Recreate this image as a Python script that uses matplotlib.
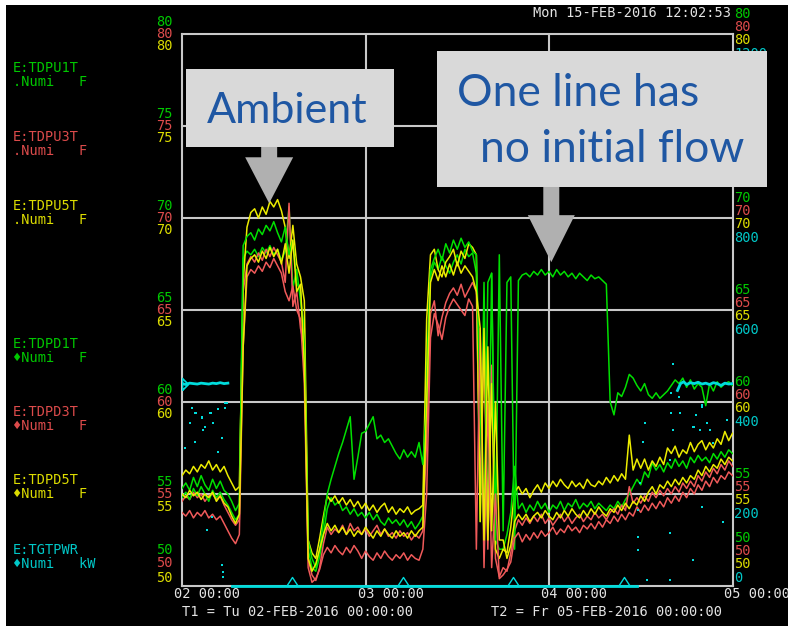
import numpy as np
import matplotlib
matplotlib.use("Agg")
import matplotlib.pyplot as plt
from matplotlib.patches import Rectangle, Polygon

# ---- data ----
# time axis: hours after Tu 02-FEB-2016 00:00, one sample every half hour
hours = np.arange(0, 72.01, 0.5)
day_labels = ["02 00:00", "03 00:00", "04 00:00", "05 00:00"]
day_hours = [0, 24, 48, 72]
temp_levels = [50, 55, 60, 65, 70, 75, 80]
power_levels = [0, 200, 400, 600, 800, 1000, 1200]

# temperatures in F
green_a = [55.3, 55.6, 55.2, 55.9, 55.4, 56.0, 55.5, 55.2, 55.8, 55.3, 55.7, 55.2, 55.0, 54.6, 54.1, 54.5,
           67.8, 68.2, 68.0, 68.3, 67.9, 68.4, 68.1, 68.5, 68.0, 68.3, 67.7, 68.2, 70.6, 66.2, 67.2, 65.5, 64.0,
           52.0, 51.0, 50.8, 51.6, 52.8, 54.2, 54.8, 54.4, 54.6, 54.1, 54.3, 53.9, 54.2, 53.8, 54.0, 53.7,
           54.0, 53.6, 53.9, 53.5, 53.3, 53.7, 53.4, 53.6, 53.3, 53.6, 53.2, 53.5, 53.1, 53.4, 53.8,
           62.0, 66.8, 67.6, 67.2, 67.9, 67.4, 67.0, 67.6, 68.0, 67.5, 68.3, 67.9, 68.1,
           67.0, 53.5, 66.5, 52.5, 67.0, 52.5, 52.0,
           52.0, 52.8, 54.0, 56.5, 54.2, 54.5, 54.0, 54.4, 54.1, 54.6, 54.2, 54.5, 54.0, 54.4, 54.2, 54.6,
           54.1, 54.5, 54.3, 54.7, 54.2, 54.5, 54.3, 54.6, 54.2, 54.5, 54.3, 54.1, 54.4, 54.2, 54.6, 54.3,
           54.7, 55.0, 55.4, 55.8, 55.5, 56.2, 55.9, 56.7, 56.3, 56.6, 56.2, 56.7, 56.4, 56.9, 56.5, 56.8,
           56.4, 57.0, 56.7, 57.1, 56.8, 57.0, 56.7, 57.2, 56.9, 57.3, 57.0, 57.4, 57.2]
red_a = [54.6, 54.9, 54.7, 55.1, 54.8, 55.0, 54.6, 54.9, 55.0, 54.7, 54.9, 54.4, 54.0, 53.6, 53.3, 53.6,
         66.0, 67.5, 67.9, 67.6, 68.1, 67.7, 68.3, 67.9, 68.4, 68.0, 67.6, 66.5, 70.8, 65.2, 66.0, 64.0, 63.0,
         51.5, 50.6, 50.3, 51.0, 52.3, 53.2, 52.8, 53.1, 52.9, 53.3, 52.8, 53.4, 53.0, 53.2, 52.8, 53.1,
         52.7, 53.0, 53.3, 52.8, 53.1, 52.7, 52.9, 52.6, 53.0, 52.7, 52.9, 52.5, 52.8, 52.6, 53.0,
         58.0, 64.8, 65.5, 63.6, 64.6, 65.4, 65.9, 66.2, 65.8, 66.4, 65.7, 66.1, 66.5,
         66.0, 55.0, 63.5, 52.0, 62.0, 51.5, 50.5,
         51.0, 50.8, 51.8, 53.0, 53.6, 53.3, 53.7, 53.4, 53.8, 53.5, 53.9, 53.4, 53.7, 53.3, 53.6, 53.9,
         53.5, 53.8, 53.4, 53.7, 53.9, 53.5, 53.8, 53.6, 54.0, 53.7, 53.9, 53.6, 54.0, 54.2, 53.9, 54.4,
         54.1, 55.4, 54.5, 54.8, 54.5, 54.9, 54.6, 55.1, 54.8, 55.2, 54.9, 55.3, 55.0, 55.4, 55.1, 55.6,
         55.3, 55.7, 55.4, 56.0, 55.7, 56.2, 55.9, 56.4, 56.1, 56.6, 56.3, 56.8, 56.5]
yellow_a = [56.0, 56.3, 56.1, 56.5, 56.2, 56.6, 56.4, 56.8, 56.3, 56.6, 56.2, 56.5, 56.0, 55.6, 55.2, 55.4,
            66.5, 69.5, 70.3, 70.5, 70.0, 70.6, 70.2, 70.9, 70.6, 71.0, 70.4, 69.5, 67.8, 69.6, 67.5, 66.8, 65.5,
            52.5, 51.8, 51.5, 52.6, 53.8, 54.9, 54.6, 54.9, 54.5, 54.8, 54.4, 54.7, 54.3, 54.6, 54.2, 54.5,
            54.1, 54.4, 54.0, 54.3, 54.5, 54.0, 54.3, 53.9, 54.2, 54.0, 54.3, 53.9, 54.1, 54.2, 54.4,
            64.5, 68.0, 68.3, 67.2, 66.8, 67.6, 67.9, 68.3, 67.4, 68.2, 67.8, 68.6, 68.4,
            68.0, 53.5, 64.0, 52.5, 61.0, 52.0, 51.5,
            52.0, 51.8, 53.2, 55.1, 55.4, 55.0, 55.3, 54.8, 55.2, 55.5, 55.1, 55.6, 55.3, 55.7, 55.4, 55.8,
            55.5, 55.3, 55.7, 55.4, 55.6, 55.3, 55.8, 55.5, 55.4, 55.7, 55.5, 55.9, 55.6, 56.0, 55.7, 56.1,
            55.8, 58.2, 56.3, 56.9, 56.4, 56.9, 56.3, 56.8, 56.5, 57.0, 56.6, 57.5, 57.2, 57.6, 57.0, 57.4,
            57.2, 57.8, 57.3, 57.7, 57.9, 57.4, 57.8, 57.5, 58.0, 57.7, 58.4, 57.9, 58.3]
green_b = [54.8, 55.1, 54.7, 55.3, 54.9, 55.4, 55.0, 54.6, 55.2, 54.8, 55.1, 54.7, 54.4, 54.0, 53.6, 53.9,
           68.5, 69.0, 69.2, 68.8, 69.4, 69.1, 69.6, 69.3, 69.8, 69.2, 68.7, 69.5, 68.0, 68.8, 66.5, 66.0, 63.0,
           52.5, 51.5, 51.0, 52.0, 53.5, 55.0, 55.8, 56.5, 57.2, 57.8, 58.5, 59.2, 55.8, 57.0, 58.3, 58.4,
           58.8, 59.2, 58.0, 58.2, 57.8, 58.0, 57.6, 57.2, 56.9, 57.4, 57.0, 57.3, 57.0, 57.8, 56.6,
           60.0, 67.2, 67.8, 68.3, 67.7, 68.6, 68.1, 68.8, 68.3, 68.9, 68.4, 68.7, 68.2,
           68.0, 60.0, 52.5, 66.5, 67.0, 52.5, 68.0,
           53.0, 66.5, 66.8, 52.0, 66.6, 66.9, 67.0, 66.8, 67.1, 66.9, 67.2, 66.9, 67.1, 66.8, 67.2, 66.9,
           67.1, 66.8, 67.0, 66.7, 67.0, 66.8, 66.6, 66.9, 66.7, 66.8, 66.6, 66.4, 60.0, 59.3, 60.5, 60.3,
           60.8, 61.5, 61.3, 60.9, 60.6, 61.0, 60.4, 60.2, 60.5, 60.2, 60.4, 60.6, 60.9, 61.2, 61.0, 61.3,
           60.8, 61.2, 60.7, 61.0, 60.8, 59.8, 61.0, 60.6, 61.1, 60.8, 61.0, 61.1, 60.9]
red_b = [54.0, 53.8, 54.1, 53.7, 54.0, 53.8, 54.1, 53.7, 53.9, 53.6, 53.8, 53.4, 53.0, 52.6, 52.3, 52.8,
         63.0, 66.8, 67.2, 67.0, 67.4, 67.1, 67.6, 67.3, 67.8, 67.4, 67.0, 66.0, 65.5, 66.3, 65.0, 64.5, 61.0,
         51.0, 50.2, 50.4, 50.9, 51.7, 52.1, 51.8, 52.2, 51.9, 51.7, 52.1, 51.8, 52.2, 51.9, 51.5, 51.9,
         51.6, 51.4, 51.8, 51.5, 51.9, 51.6, 51.4, 51.7, 51.5, 51.8, 51.4, 51.7, 51.5, 51.4, 52.0,
         55.0, 63.5, 64.8, 64.2, 63.4, 64.6, 65.2, 65.6, 65.3, 65.0, 64.7, 65.6, 65.2,
         52.0, 64.0, 51.0, 60.0, 51.0, 55.0, 50.4,
         50.6, 50.9, 51.3, 52.6, 52.9, 52.4, 52.8, 52.5, 52.9, 52.6, 53.0, 52.7, 52.9, 53.2, 52.8, 53.1,
         52.9, 53.3, 53.0, 53.2, 52.9, 53.3, 53.1, 53.4, 53.1, 53.5, 53.2, 53.6, 53.4, 53.8, 53.5, 53.9,
         53.6, 54.0, 53.8, 54.3, 54.0, 54.4, 54.1, 54.5, 54.2, 54.6, 54.3, 54.8, 54.5, 54.9, 54.6, 55.1,
         54.8, 55.3, 55.0, 55.5, 55.2, 55.7, 55.4, 55.9, 55.6, 56.0, 55.8, 56.2, 56.0]
yellow_b = [55.0, 54.8, 55.2, 54.9, 55.1, 54.7, 55.0, 54.8, 55.1, 54.6, 54.9, 54.5, 54.3, 53.8, 53.4, 53.9,
            63.0, 67.4, 67.8, 68.0, 67.6, 68.2, 67.8, 68.4, 67.9, 68.3, 67.5, 68.6, 67.0, 68.8, 66.0, 66.4, 62.0,
            51.5, 50.8, 51.2, 52.0, 52.8, 53.4, 53.0, 53.3, 52.9, 53.2, 52.8, 53.1, 52.7, 53.0, 52.8, 53.2,
            52.9, 52.6, 53.0, 52.7, 53.1, 52.8, 52.6, 53.0, 52.7, 52.9, 52.6, 53.0, 52.7, 53.0, 53.2,
            60.0, 66.5, 67.2, 66.6, 67.4, 66.8, 67.5, 66.9, 67.6, 67.0, 67.4, 67.1, 66.8,
            66.0, 64.0, 52.5, 63.0, 53.0, 60.0, 52.5,
            52.5, 51.5, 52.2, 53.5, 53.9, 53.6, 53.9, 53.5, 53.8, 54.0, 53.7, 54.1, 53.8, 53.6, 54.0, 53.7,
            54.1, 53.8, 54.2, 53.9, 53.7, 54.1, 53.8, 54.2, 53.9, 54.3, 54.0, 53.8, 54.2, 54.0, 54.4, 54.1,
            54.5, 54.2, 54.6, 54.4, 54.9, 54.6, 55.1, 55.4, 55.0, 55.5, 55.3, 55.7, 55.4, 55.8, 55.5, 55.9,
            55.6, 56.0, 55.8, 56.3, 56.0, 56.5, 56.2, 56.6, 56.4, 56.9, 56.6, 57.0, 56.8]

# target power in kW
power_on1_hours = [0, 0.5, 1, 1.5, 2, 2.5, 3, 3.5, 4, 4.5, 5, 5.5, 6]
power_on1_kw = [440, 438, 441, 440, 439, 441, 440, 439, 441, 440, 442, 440, 441]
power_off_hours = [6.5, 59.5]
power_off_kw = [0, 0]
power_on2_hours = [64.8, 65.2, 65.6, 66, 66.5, 67, 67.5, 68, 68.5, 69, 69.5, 70, 70.5, 71, 71.5, 72]
power_on2_kw = [425, 440, 444, 438, 442, 440, 443, 439, 441, 438, 442, 440, 436, 441, 439, 440]
power_dot_hours = [0.4, 1.05, 1.3, 1.7, 1.7, 1.8, 2.6, 2.6, 2.75, 3.0, 3.3, 3.7, 3.8, 3.9, 4.05, 4.7,
                   4.7, 5.2, 5.2, 5.3, 5.4, 5.6, 5.6, 5.9,
                   59.6, 59.6, 59.6, 59.9, 60.3, 60.55, 60.8, 63.8, 63.8, 63.8, 64.0, 64.0, 64.2, 64.2,
                   65.0, 65.1, 66.8, 66.8, 67.0, 67.2, 67.7, 68.0, 68.0, 68.0, 68.7, 69.1, 69.4, 70.8, 71.3]
power_dot_kw = [300, 354, 387, 376, 313, 376, 365, 367, 339, 346, 122, 376, 376, 150, 354, 291,
                385, 322, 46, 30, 20, 387, 398, 398,
                165, 107, 78, 224, 313, 354, 13, 274, 115, 13, 420, 376, 483, 339,
                411, 376, 346, 57, 346, 372, 339, 394, 389, 171, 354, 339, 311, 139, 361]
power_marker_hours = [14.45, 28.9, 43.35, 57.8]

ambient_tip = (11.4, 70.8)
noflow_tip = (48.3, 67.6)

# ---- style ----
W, H = 788, 626
GREEN, RED, YELLOW, CYAN = "#00e000", "#f05a5a", "#ecec00", "#00dcdc"
LGREEN, LRED, LYELLOW, LCYAN = "#00c800", "#dc4b4b", "#dcdc00", "#00c8c8"
TXT = "#e4e4e4"
GRID = "#c8c8c8"
BLUE = "#1f57a3"
MONO = ["DejaVu Sans Mono", "DejaVu Sans"]
FS = 9.8
PT = 0.72  # points per pixel at 100 dpi

fig = plt.figure(figsize=(W / 100, H / 100), dpi=100, facecolor="black")
# white margin of the screenshot on the left and top
fig.patches.append(Rectangle((0, 0), 6 / W, 1, transform=fig.transFigure,
                             facecolor="white", edgecolor="none"))
fig.patches.append(Rectangle((0, 1 - 5 / H), 1, 5 / H, transform=fig.transFigure,
                             facecolor="white", edgecolor="none"))

ax = fig.add_axes([182 / W, 1 - 586 / H, 550.5 / W, 552 / H])
ax.set_facecolor("black")
ax.set_xlim(day_hours[0], day_hours[-1])
ax.set_ylim(temp_levels[0], temp_levels[-1])
ax.set_xticks([])
ax.set_yticks([])
for sp in ax.spines.values():
    sp.set_color(GRID)
    sp.set_linewidth(1.5)
for h in day_hours[1:-1]:
    ax.axvline(h, color=GRID, lw=1.5, zorder=1)
for t in temp_levels[1:-1]:
    ax.axhline(t, color=GRID, lw=1.5, zorder=1)

traces = [(green_a, GREEN), (red_a, RED), (yellow_a, YELLOW),
          (green_b, GREEN), (red_b, RED), (yellow_b, YELLOW)]
for values, col in traces:
    ax.plot(hours, values, color=col, lw=1.1, zorder=3)

# power on its own 0..1200 kW scale
axp = ax.twinx()
axp.set_ylim(power_levels[0], power_levels[-1])
axp.axis("off")
axp.plot(power_on1_hours, power_on1_kw, color=CYAN, lw=2)
axp.plot(power_on2_hours, power_on2_kw, color=CYAN, lw=2)
axp.plot(power_off_hours, power_off_kw, color=CYAN, lw=2, clip_on=False)
axp.plot(power_dot_hours, power_dot_kw, ls="none", marker="s", ms=2, color=CYAN, mew=0)
up_tri = [(-0.65, 0), (0, 1), (0.65, 0), (-0.65, 0)]
axp.plot(power_marker_hours, [0] * len(power_marker_hours), ls="none", marker=up_tri, ms=13,
         mfc="none", mec=CYAN, mew=1, clip_on=False)
axp.plot([power_on1_hours[0]], [power_on1_kw[0]], ls="none",
         marker=[(0, -1), (1, 0), (0, 1), (0, -1)], ms=8.6, mfc="none", mec=CYAN, mew=1.2)

# left scale labels (green / red / yellow), pushed up at the bottom
for t in temp_levels:
    offs = [-36, -23, -8] if t == temp_levels[0] else [-12.5, 0, 12.5]
    for dy, col in zip(offs, [LGREEN, LRED, LYELLOW]):
        ax.annotate(str(t), xy=(0, t), xycoords=("axes fraction", "data"),
                    xytext=(-9 * PT, -dy * PT), textcoords="offset points",
                    ha="right", va="center", color=col, family=MONO, fontsize=FS)

# right scale labels (green / red / yellow / cyan kW)
for t, p in zip(temp_levels, power_levels):
    offs = [-48, -35, -22, -8] if t == temp_levels[0] else [-20, -7, 6, 20]
    texts = [str(t), str(t), str(t), str(p)]
    for dy, col, s in zip(offs, [LGREEN, LRED, LYELLOW, LCYAN], texts):
        ax.annotate(s, xy=(1, t), xycoords=("axes fraction", "data"),
                    xytext=(1.5 * PT, -dy * PT), textcoords="offset points",
                    ha="left", va="center", color=col, family=MONO, fontsize=FS)

# time labels
for h, lab in zip(day_hours, day_labels):
    ax.annotate(lab, xy=(h, 0), xycoords=("data", "axes fraction"),
                xytext=(-8 * PT, -7.5 * PT), textcoords="offset points",
                ha="left", va="center", color=TXT, family=MONO, fontsize=FS,
                annotation_clip=False)
fig.text(182 / W, 1 - 612 / H, "T1 = Tu 02-FEB-2016 00:00:00", color=TXT, family=MONO,
         fontsize=FS, va="center")
fig.text(491 / W, 1 - 612 / H, "T2 = Fr 05-FEB-2016 00:00:00", color=TXT, family=MONO,
         fontsize=FS, va="center")
fig.text(731 / W, 1 - 13 / H, "Mon 15-FEB-2016 12:02:53", color=TXT, family=MONO,
         fontsize=FS, va="center", ha="right")

# trace names on the left
names = ["E:TDPU1T", "E:TDPU3T", "E:TDPU5T", "E:TDPD1T", "E:TDPD3T", "E:TDPD5T", "E:TGTPWR"]
subs = [".Numi   F", ".Numi   F", ".Numi   F", "\u2666Numi   F", "\u2666Numi   F",
        "\u2666Numi   F", "\u2666Numi   kW"]
name_cols = [LGREEN, LRED, LYELLOW, LGREEN, LRED, LYELLOW, LCYAN]
name_y = [68, 137, 206, 344, 412, 480, 550]
for nm, sb, col, y in zip(names, subs, name_cols, name_y):
    fig.text(13 / W, 1 - y / H, nm, color=col, family=MONO, fontsize=FS, va="center")
    fig.text(13 / W, 1 - (y + 14) / H, sb, color=col, family=MONO, fontsize=FS, va="center")

# call-out boxes in pixel space
ov = fig.add_axes([0, 0, 1, 1], zorder=10)
ov.set_xlim(0, W)
ov.set_ylim(H, 0)
ov.axis("off")


def callout(box, tip, shaft_hw, head_hw, head_len):
    x0, y0, bw, bh = box
    ov.add_patch(Rectangle((x0, y0), bw, bh, facecolor="#d9d9d9", edgecolor="none"))
    tx, ty = ov.transData.inverted().transform(ax.transData.transform(tip))
    top = y0 + bh
    hy = ty - head_len
    pts = [(tx - shaft_hw, top), (tx + shaft_hw, top), (tx + shaft_hw, hy), (tx + head_hw, hy),
           (tx, ty), (tx - head_hw, hy), (tx - shaft_hw, hy)]
    ov.add_patch(Polygon(pts, closed=True, facecolor="#b0b0b0", edgecolor="none"))


callout((186, 69, 208, 78), ambient_tip, 8, 24, 46)
callout((437, 51, 330, 136), noflow_tip, 8, 23.5, 47)
ov.text(207, 123, "Ambient", fontsize=31, family="Lato", color=BLUE, va="baseline")
ov.text(457, 106, "One line has", fontsize=32, family="Lato", color=BLUE, va="baseline")
ov.text(480, 162, "no initial flow", fontsize=32, family="Lato", color=BLUE, va="baseline")

fig.savefig("out.png", dpi=100, facecolor="black")
